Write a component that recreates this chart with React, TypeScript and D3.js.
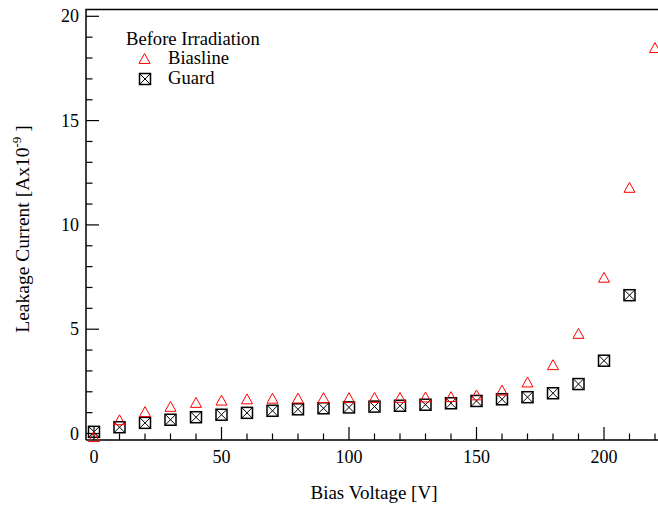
import React from "react";
import * as d3 from "d3";

const voltages = [0, 10, 20, 30, 40, 50, 60, 70, 80, 90, 100, 110, 120, 130, 140, 150, 160, 170, 180, 190, 200, 210, 220];
const biaslineValues = [-0.15, 0.66, 1.05, 1.3, 1.49, 1.6, 1.66, 1.69, 1.7, 1.72, 1.72, 1.73, 1.73, 1.75, 1.77, 1.85, 2.08, 2.47, 3.3, 4.8, 7.49, 11.8, 18.5];
const guardVoltages = [0, 10, 20, 30, 40, 50, 60, 70, 80, 90, 100, 110, 120, 130, 140, 150, 160, 170, 180, 190, 200, 210];
const guardValues = [0.08, 0.3, 0.51, 0.66, 0.78, 0.9, 0.99, 1.09, 1.16, 1.21, 1.25, 1.29, 1.33, 1.38, 1.45, 1.56, 1.64, 1.74, 1.93, 2.37, 3.49, 6.63];
const xMajorTicks = [0, 50, 100, 150, 200];
const yMajorTicks = [0, 5, 10, 15, 20];

const FONT = "'Liberation Serif', 'Times New Roman', serif";

export default function App() {
  const W = 658, H = 508;
  const left = 86, right = 664, top = 9.5, bottom = 440;
  const x = d3.scaleLinear().domain([0, 200]).range([94, 604]);
  const y = d3.scaleLinear().domain([0, 20]).range([433.5, 16.3]);
  const xMinor = d3.range(0, 221, 10).filter((v) => v % 50 !== 0);
  const yMinor = d3.range(0, 21, 1).filter((v) => v % 5 !== 0);

  const tri = (cx: number, cy: number, s = 5.5) => {
    const h = s * 0.9;
    return `M${cx},${cy - h} L${cx + s},${cy + h} L${cx - s},${cy + h} Z`;
  };
  const box = (cx: number, cy: number, key: string) => {
    const s = 5.5;
    return (
      <g key={key}>
        <rect x={cx - s} y={cy - s} width={2 * s} height={2 * s} fill="none" stroke="#000" strokeWidth={1.5} />
        <path d={`M${cx - s},${cy - s} L${cx + s},${cy + s} M${cx + s},${cy - s} L${cx - s},${cy + s}`} stroke="#000" strokeWidth={1} />
      </g>
    );
  };

  return (
    <svg width={W} height={H} style={{ position: "absolute", left: 0, top: 0, display: "block", background: "#fff" }} fontFamily={FONT}>
      {/* frame */}
      <path d={`M${left},${bottom} L${left},${top} L${right},${top}`} fill="none" stroke="#000" strokeWidth={1.5} />
      <line x1={left} x2={right} y1={bottom} y2={bottom} stroke="#000" strokeWidth={1.5} />
      {/* x ticks */}
      {xMajorTicks.map((v) => (
        <g key={"xm" + v}>
          <line x1={x(v)} x2={x(v)} y1={bottom} y2={bottom - 13} stroke="#000" strokeWidth={1.2} />
          <text x={x(v)} y={463} textAnchor="middle" fontSize={18}>{v}</text>
        </g>
      ))}
      {xMinor.map((v) => (
        <line key={"xn" + v} x1={x(v)} x2={x(v)} y1={bottom} y2={bottom - 6.5} stroke="#000" strokeWidth={1.2} />
      ))}
      {/* y ticks */}
      {yMajorTicks.map((v) => (
        <g key={"ym" + v}>
          <line x1={left} x2={left + 13} y1={y(v)} y2={y(v)} stroke="#000" strokeWidth={1.2} />
          <text x={79} y={y(v) + 6} textAnchor="end" fontSize={18}>{v}</text>
        </g>
      ))}
      {yMinor.map((v) => (
        <line key={"yn" + v} x1={left} x2={left + 6.5} y1={y(v)} y2={y(v)} stroke="#000" strokeWidth={1.2} />
      ))}
      {/* axis titles */}
      <text x={374} y={499} textAnchor="middle" fontSize={19}>Bias Voltage [V]</text>
      <text transform="translate(29,229) rotate(-90)" textAnchor="middle" fontSize={19.5}>
        Leakage Current [Ax10<tspan fontSize={13} dy={-8}>-9</tspan><tspan dy={8}>  ]</tspan>
      </text>
      {/* data */}
      {guardVoltages.map((v, i) => box(x(v), y(guardValues[i]), "g" + v))}
      {voltages.map((v, i) => (
        <path key={"b" + v} d={tri(x(v), y(biaslineValues[i]))} fill="none" stroke="#ff0000" strokeWidth={1} />
      ))}
      {/* legend */}
      <text x={126} y={45} fontSize={18.6}>Before Irradiation</text>
      <path d={tri(144.5, 58.5)} fill="none" stroke="#ff0000" strokeWidth={1} />
      <text x={168} y={64} fontSize={18.6}>Biasline</text>
      {box(145, 79, "lg")}
      <text x={168} y={83.5} fontSize={18.6}>Guard</text>
    </svg>
  );
}
